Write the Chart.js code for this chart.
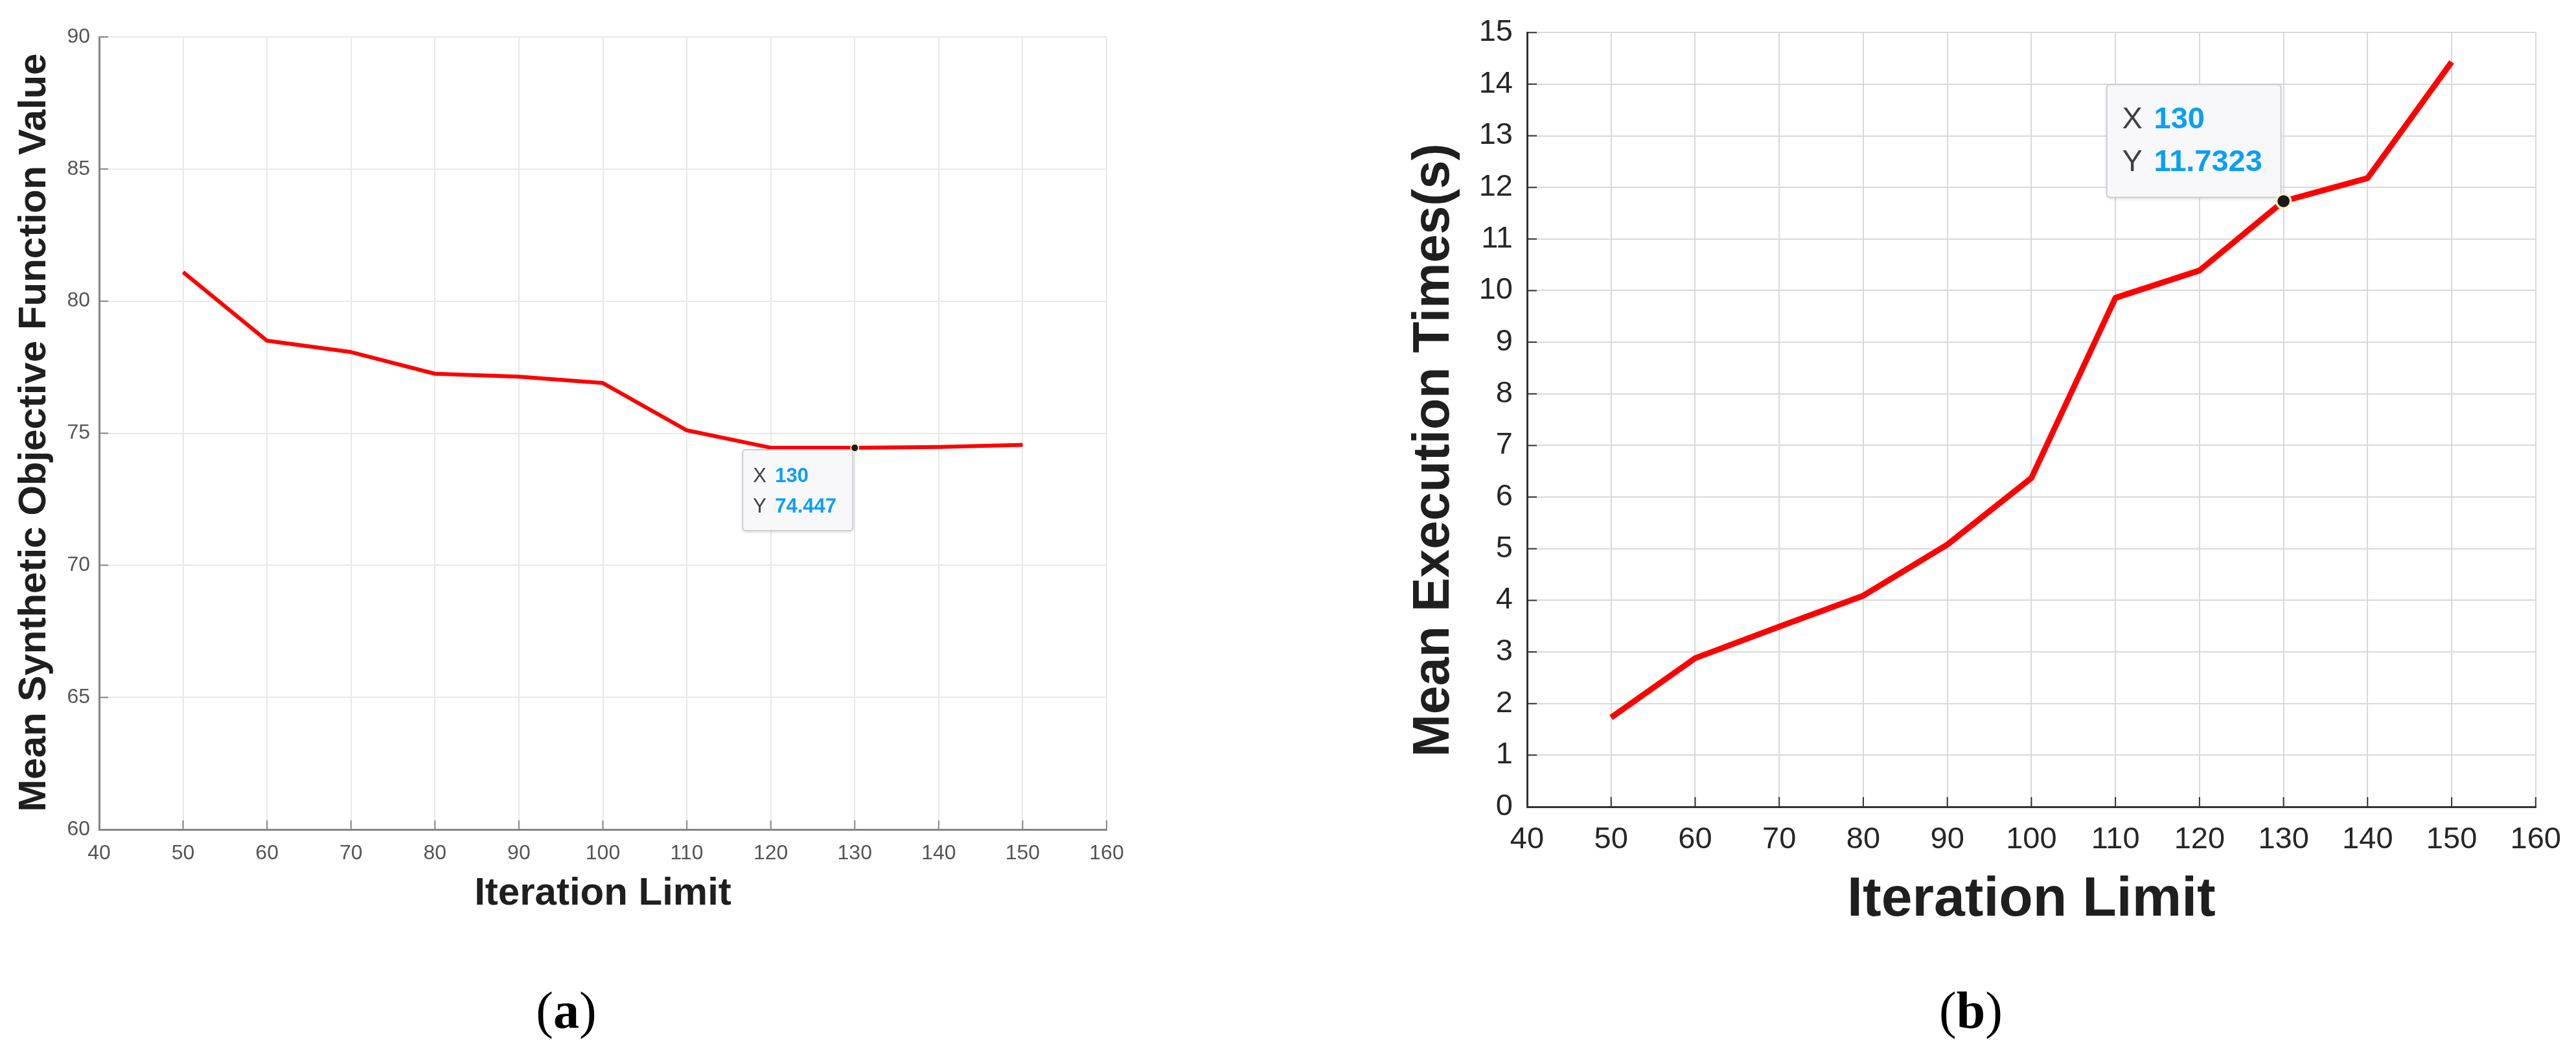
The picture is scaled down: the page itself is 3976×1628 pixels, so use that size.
<!DOCTYPE html>
<html>
<head>
<meta charset="utf-8">
<script src="https://cdn.jsdelivr.net/npm/chart.js@4.4.1/dist/chart.umd.min.js"></script>
<style>
  html, body { margin: 0; padding: 0; background: #fff; }
  body { width: 3976px; height: 1628px; position: relative; overflow: hidden; }
  canvas { position: absolute; top: 0; }
  .cap { position: absolute; top: 1519px; width: 200px; text-align: center; font: 80px/80px "Liberation Serif", "Times New Roman", serif; color: #000; }
</style>
</head>
<body>
<canvas id="c-obj" width="1800" height="1460" style="left:0"></canvas>
<canvas id="c-time" width="1976" height="1460" style="left:2000px"></canvas>
<div class="cap" style="left:774px">(<b>a</b>)</div>
<div class="cap" style="left:2942px">(<b>b</b>)</div>
<script>
// data
const ITER_LIMIT = [50, 60, 70, 80, 90, 100, 110, 120, 130, 140, 150];
const OBJ_VALUE = [81.1, 78.5, 78.07, 77.25, 77.14, 76.9, 75.11, 74.45, 74.447, 74.48, 74.56];
const EXEC_TIME = [1.73, 2.88, 3.49, 4.09, 5.08, 6.37, 9.86, 10.39, 11.7323, 12.18, 14.43];
const X_RANGE = [40, 160, 10];      // min, max, step
const OBJ_RANGE = [60, 90, 5];
const TIME_RANGE = [0, 15, 1];
const TIP_INDEX = 8;                // data tip on iteration limit 130

const FONT = '"Liberation Sans", Arial, Helvetica, sans-serif';

function buildPanel(canvas, s) {
  // MATLAB style: tick marks point into the plot
  const inwardTicks = {
    id: "inwardTicks",
    afterDatasetsDraw(chart) {
      const { ctx, chartArea: a, scales } = chart;
      ctx.save();
      ctx.strokeStyle = s.axisColor;
      ctx.lineWidth = 2;
      ctx.beginPath();
      scales.x.ticks.forEach((t) => {
        const px = scales.x.getPixelForValue(t.value);
        ctx.moveTo(px, a.bottom); ctx.lineTo(px, a.bottom - s.tickLen);
      });
      scales.y.ticks.forEach((t) => {
        const py = scales.y.getPixelForValue(t.value);
        ctx.moveTo(a.left, py); ctx.lineTo(a.left + s.tickLen, py);
      });
      ctx.stroke();
      ctx.restore();
    },
  };

  const axisTitles = {
    id: "axisTitles",
    afterDraw(chart) {
      const { ctx, chartArea: a } = chart;
      ctx.save();
      ctx.fillStyle = "#1f1f1f";
      ctx.textAlign = "center";
      ctx.textBaseline = "middle";
      ctx.font = `bold ${s.xTitleSize}px ${FONT}`;
      ctx.fillText(s.xTitle, (a.left + a.right) / 2, a.bottom + s.xTitleOff);
      ctx.translate(a.left - s.yTitleOff, (a.top + a.bottom) / 2 + s.yTitleShift);
      ctx.rotate(-Math.PI / 2);
      ctx.font = `bold ${s.yTitleSize}px ${FONT}`;
      ctx.fillText(s.yTitle, 0, 0);
      ctx.restore();
    },
  };

  const dataTip = {
    id: "dataTip",
    afterDraw(chart) {
      const t = s.tip;
      const pt = chart.getDatasetMeta(0).data[TIP_INDEX];
      const raw = chart.data.datasets[0].data[TIP_INDEX];
      const { ctx } = chart;
      const bx = pt.x + t.dx, by = pt.y + t.dy;
      ctx.save();
      ctx.shadowColor = "rgba(0,0,0,0.15)"; ctx.shadowBlur = 5; ctx.shadowOffsetY = 2;
      ctx.beginPath(); ctx.roundRect(bx, by, t.w, t.h, 5);
      ctx.fillStyle = "#f8f8fb"; ctx.fill();
      ctx.shadowColor = "transparent";
      ctx.lineWidth = 2; ctx.strokeStyle = "#cdcdd2"; ctx.stroke();
      ctx.textAlign = "left"; ctx.textBaseline = "middle";
      [["X", raw.x], ["Y", raw.y]].forEach(([k, v], i) => {
        const ty = by + t.rows[i];
        ctx.font = `${t.size}px ${FONT}`; ctx.fillStyle = "#404040";
        ctx.fillText(k, bx + t.padL, ty);
        ctx.font = `bold ${t.size}px ${FONT}`; ctx.fillStyle = "#0a9ff5";
        ctx.fillText(String(v), bx + t.valL, ty);
      });
      ctx.beginPath(); ctx.arc(pt.x, pt.y, t.dot, 0, Math.PI * 2);
      ctx.fillStyle = "#1a1a1a"; ctx.fill();
      ctx.lineWidth = Math.max(1.5, t.dot * 0.3); ctx.strokeStyle = "#fff2c0"; ctx.stroke();
      ctx.restore();
    },
  };

  const tickFont = { family: FONT, size: s.tickSize };
  return new Chart(canvas, {
    type: "line",
    data: {
      datasets: [{
        data: ITER_LIMIT.map((x, i) => ({ x, y: s.values[i] })),
        borderColor: "#ff0000", borderWidth: s.lineWidth, borderJoinStyle: "round",
        pointRadius: 0, tension: 0, fill: false,
      }],
    },
    options: {
      responsive: false, animation: false, devicePixelRatio: 1,
      layout: { padding: { left: 0, top: s.top, right: s.right, bottom: 0 } },
      plugins: { legend: { display: false }, tooltip: { enabled: false } },
      scales: {
        x: {
          type: "linear", min: X_RANGE[0], max: X_RANGE[1],
          ticks: { stepSize: X_RANGE[2], padding: s.xPad, color: s.tickColor, font: tickFont, maxRotation: 0, autoSkip: false },
          grid: { color: s.gridColor, lineWidth: 2, drawTicks: false },
          border: { color: s.axisColor, width: s.axisWidth },
          afterFit: (sc) => { sc.height = s.xHeight; },
        },
        y: {
          type: "linear", min: s.range[0], max: s.range[1],
          ticks: { stepSize: s.range[2], padding: s.yPad, color: s.tickColor, font: tickFont, autoSkip: false },
          grid: { color: s.gridColor, lineWidth: 2, drawTicks: false },
          border: { color: s.axisColor, width: s.axisWidth },
          afterFit: (sc) => { sc.width = s.yWidth; },
        },
      },
    },
    plugins: [inwardTicks, axisTitles, dataTip],
  });
}

/* (a) objective value */
buildPanel(document.getElementById("c-obj"), {
  values: OBJ_VALUE, range: OBJ_RANGE,
  top: 57, right: 92, yWidth: 153, xHeight: 180,
  tickSize: 32, tickColor: "#555555", xPad: 18, yPad: 14, tickLen: 14,
  gridColor: "#e8e8e8", axisColor: "#858585", axisWidth: 3, lineWidth: 6,
  xTitle: "Iteration Limit", xTitleSize: 60, xTitleOff: 99,
  yTitle: "Mean Synthetic Objective Function Value", yTitleSize: 60, yTitleOff: 100, yTitleShift: -1,
  tip: { dx: -173, dy: 3, w: 170, h: 125, rows: [41, 88], padL: 16, valL: 50, size: 31, dot: 6 },
});

/* (b) execution time */
buildPanel(document.getElementById("c-time"), {
  values: EXEC_TIME, range: TIME_RANGE,
  top: 41, right: 59, yWidth: 357, xHeight: 215,
  tickSize: 47, tickColor: "#262626", xPad: 23, yPad: 22, tickLen: 15,
  gridColor: "#d9d9d9", axisColor: "#333333", axisWidth: 3, lineWidth: 9,
  xTitle: "Iteration Limit", xTitleSize: 86, xTitleOff: 144,
  yTitle: "Mean Execution Times(s)", yTitleSize: 79, yTitleOff: 143, yTitleShift: 47,
  tip: { dx: -273, dy: -180, w: 269, h: 174, rows: [55, 121], padL: 24, valL: 73, size: 47, dot: 11 },
});
</script>
</body>
</html>
